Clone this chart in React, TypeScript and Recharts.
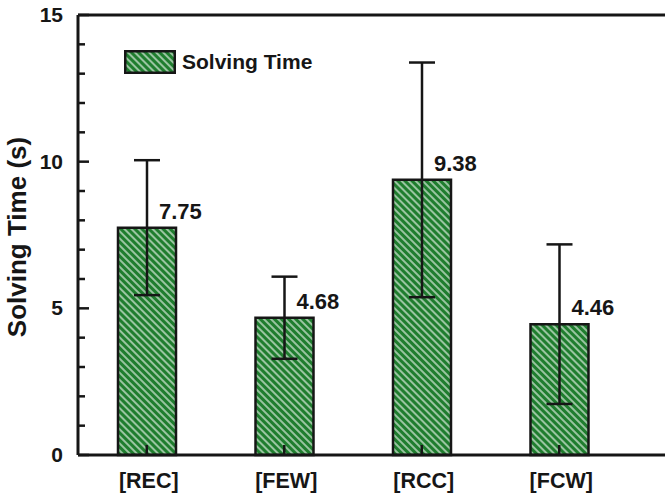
import React from 'react'
import {
  BarChart,
  Bar,
  XAxis,
  YAxis,
  CartesianGrid,
  ErrorBar,
  LabelList,
} from 'recharts'

const CATEGORIES = ['[REC]', '[FEW]', '[RCC]', '[FCW]']
const TIMES = [7.75, 4.68, 9.38, 4.46]
const ERRORS = [2.3, 1.4, 4.0, 2.72]
const Y_TICKS = [0, 1, 2, 3, 4, 5, 6, 7, 8, 9, 10, 11, 12, 13, 14, 15]
const Y_LABELS = [0, 5, 10, 15]

const data = CATEGORIES.map((name, i) => ({ name, time: TIMES[i], err: ERRORS[i] }))

const FONT = '"Liberation Sans", Arial, sans-serif'
const INK = '#161616'
const GREEN = '#1f7d2e'

function Hatch({ id }: { id: string }) {
  return (
    <defs>
      <pattern id={id} width={5} height={5} patternUnits="userSpaceOnUse" patternTransform="rotate(-45)">
        <rect width={5} height={5} fill={GREEN} />
        <line x1={1} y1={0} x2={1} y2={5} stroke="#ffffff" strokeWidth={1.1} />
      </pattern>
    </defs>
  )
}

// ticks point inward, minor every 1 s
function YTick(props: any) {
  const x = Number(props.x)
  const y = Number(props.y)
  const v = props.payload.value
  const major = Y_LABELS.includes(v)
  return (
    <g>
      <path d={`M${x},${y}h${major ? 11 : 7}`} stroke={INK} strokeWidth={2.5} fill="none" />
      {major && (
        <text x={x - 15} y={y + 7} textAnchor="end" fontFamily={FONT} fontWeight="bold" fontSize={21} fill={INK}>
          {v}
        </text>
      )}
    </g>
  )
}

function XTick(props: any) {
  const x = Number(props.x)
  const y = Number(props.y)
  return (
    <g>
      <path d={`M${x},${y}v-10`} stroke={INK} strokeWidth={2.5} fill="none" />
      <text x={x + 2} y={y + 33} textAnchor="middle" fontFamily={FONT} fontWeight="bold" fontSize={21.5} fill={INK}>
        {props.payload.value}
      </text>
    </g>
  )
}

function ValueLabel(props: any) {
  const x = Number(props.x)
  const y = Number(props.y)
  const width = Number(props.width)
  return (
    <text x={x + width / 2 + 12} y={y - 9} fontFamily={FONT} fontWeight="bold" fontSize={22} fill={INK}>
      {Number(props.value).toFixed(2)}
    </text>
  )
}

export default function App() {
  return (
    <div style={{ position: 'absolute', left: 0, top: 0, width: 665, height: 499, overflow: 'hidden', background: '#fff' }}>
      <BarChart width={720} height={499} data={data} margin={{ top: 15, right: 0, left: 0, bottom: 0 }}>
        <Hatch id="hatch" />
        <CartesianGrid horizontalValues={[15]} vertical={false} stroke={INK} strokeWidth={3} strokeDasharray="" />
        <Bar dataKey="time" barSize={58} fill="url(#hatch)" stroke={INK} strokeWidth={2.5} isAnimationActive={false}>
          <ErrorBar dataKey="err" width={13} stroke={INK} strokeWidth={2.5} />
          <LabelList dataKey="time" content={<ValueLabel />} />
        </Bar>
        <XAxis
          dataKey="name"
          height={44}
          padding={{ left: 0, right: 92 }}
          axisLine={{ stroke: INK, strokeWidth: 3 }}
          tickLine={false}
          tickSize={0}
          tickMargin={0}
          tick={<XTick />}
          interval={0}
        />
        <YAxis
          width={78}
          domain={[0, 15]}
          ticks={Y_TICKS}
          interval={0}
          axisLine={{ stroke: INK, strokeWidth: 3 }}
          tickLine={false}
          tickSize={0}
          tickMargin={0}
          tick={<YTick />}
          label={{
            content: () => (
              <text
                transform="translate(26, 237) rotate(-90)"
                textAnchor="middle"
                fontFamily={FONT}
                fontWeight="bold"
                fontSize={26}
                fill={INK}
              >
                Solving Time (s)
              </text>
            ),
          }}
        />
      </BarChart>
      <div style={{ position: 'absolute', left: 124, top: 50, display: 'flex', alignItems: 'center' }}>
        <svg width={52} height={24}>
          <Hatch id="hatch-legend" />
          <rect x={1.25} y={1.25} width={49.5} height={21.5} fill="url(#hatch-legend)" stroke={INK} strokeWidth={2.5} />
        </svg>
        <span style={{ marginLeft: 6, fontFamily: FONT, fontWeight: 'bold', fontSize: 21, color: INK }}>
          Solving Time
        </span>
      </div>
    </div>
  )
}
